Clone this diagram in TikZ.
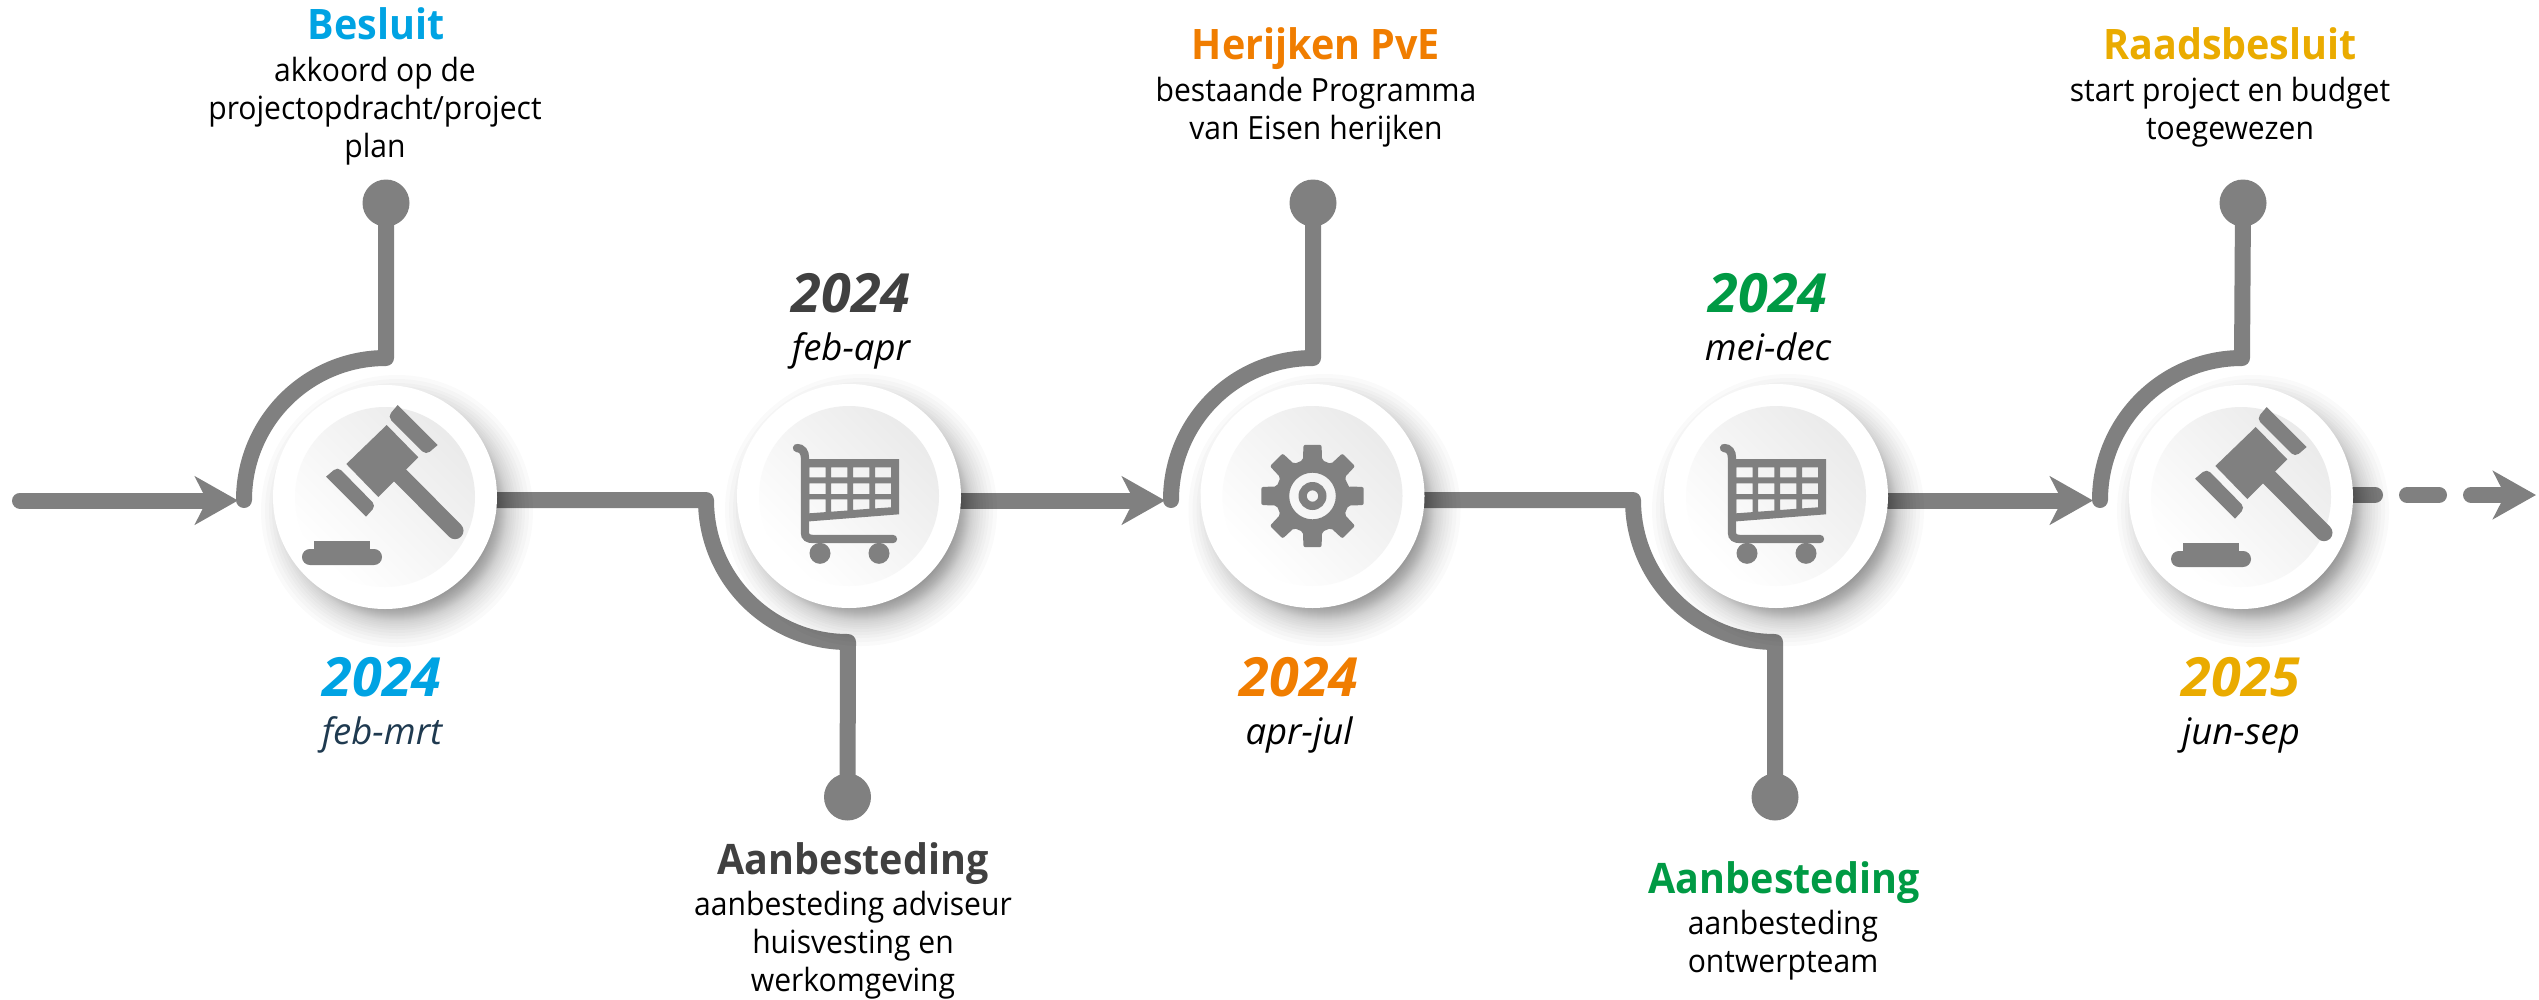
\documentclass[tikz,border=0pt]{standalone}
\usepackage{fontspec}
\usetikzlibrary{arrows.meta}
\newfontfamily\bodyf[FakeStretch=0.94]{Open Sans}
\newfontfamily\datef{Open Sans}
\definecolor{linegray}{HTML}{808080}
\definecolor{cblue}{HTML}{00A3E3}
\definecolor{cdark}{HTML}{404040}
\definecolor{corange}{HTML}{F07D00}
\definecolor{cgreen}{HTML}{009A44}
\definecolor{cyellow}{HTML}{EAAB00}
\definecolor{cnavy}{HTML}{1F3A50}
\pgfdeclarelayer{conn}
\pgfsetlayers{conn,main}
\tikzset{
  x=1pt,y=-1pt,
  conn/.style={draw=linegray,line width=16pt,line cap=round,line join=round},
  arrowconn/.style={conn,-{Stealth[length=43pt,width=48pt,inset=12pt]}},
  dashconn/.style={arrowconn,dash pattern=on 32pt off 32pt,dash phase=26pt},
  dot/.style={circle,fill=linegray,minimum size=47pt,inner sep=0pt},
  disc/.style={circle,fill=white,minimum size=224pt,inner sep=0pt},
  innerdisc/.style={circle,minimum size=180pt,inner sep=0pt,left color=black!8,right color=white,shading angle=-45},
  titlelabel/.style={anchor=base,inner sep=0pt,font=\bodyf\bfseries\fontsize{42}{48}\selectfont},
  bodylabel/.style={anchor=base,inner sep=0pt,align=center,text=black,font=\bodyf\fontsize{32}{38}\selectfont},
  yearlabel/.style={anchor=base,inner sep=0pt,font=\datef\bfseries\itshape\fontsize{54}{60}\selectfont},
  monthlabel/.style={anchor=base,inner sep=0pt,font=\datef\itshape\fontsize{36.5}{42}\selectfont},
  gavelicon/.pic={
    \fill[linegray] (14.7,-70)--(46.3,-37.7)--(6.3,2)--(-25.7,-31)--cycle;
    \draw[linegray,line width=17pt,line cap=round] (28,-19.7)--(83,35.7);
    \fill[linegray] (25.7,-90)--(65.7,-50)[rounded corners=5pt]--(54,-40)--(15.7,-78.3)[sharp corners]--cycle;
    \fill[linegray] (-46,-18.3)--(-6,21.7)[rounded corners=5pt]--(4,10.7)--(-34.3,-28.3)[sharp corners]--cycle;
    \fill[linegray,rounded corners=7.9pt] (-70,54) rectangle (10,70);
    \fill[linegray] (-58,45.7) rectangle (-2,55);
  },
  carticon/.pic={
    \draw[linegray,line width=8.3pt,line cap=round] (-52,-48) .. controls (-47,-48) and (-44,-44) .. (-44,-38) -- (-44,37) .. controls (-44,41) and (-41,43) .. (-36,43) -- (44,43);
    \fill[linegray,even odd rule] (-44,-37)--(50,-37)--(50,18.3)--(-44,25.7)--cycle
      (-39.7,-28.7) rectangle (-23.3,-18.7) (-18,-28.7) rectangle (-1.7,-18.7) (4,-28.7) rectangle (20.3,-18.7) (26,-28.7) rectangle (42,-18.7)
      (-39.7,-12.7) rectangle (-23.3,-2) (-18,-12.7) rectangle (-1.7,-2) (4,-12.7) rectangle (20.3,-2) (26,-12.7) rectangle (42,-2)
      (-39.7,3.3)--(-23.3,3.3)--(-23.3,16.1)--(-39.7,17.3)--cycle
      (-18,3.3)--(-1.7,3.3)--(-1.7,14.5)--(-18,15.7)--cycle
      (4,3.3)--(20.3,3.3)--(20.3,12.8)--(4,14)--cycle
      (26,3.3)--(42,3.3)--(42,11.3)--(26,12.4)--cycle;
    \fill[linegray] (-29,57.3) circle[radius=10.5] (30,57.3) circle[radius=10.5];
  },
  gearicon/.pic={
    \fill[linegray,even odd rule,rounded corners=2pt] (-12:38)
      \foreach \a in {0,45,...,315}{ -- (\a-15:37) -- (\a-10:52) -- (\a+10:52) -- (\a+15:37)} -- cycle
      (0,0) circle[radius=23.3] (0,0) circle[radius=14] (0,0) circle[radius=5.7];
  },
}
\newcommand\softdisc[3]{%
  \foreach \r in {136,132,128,125,122,119,117,115,113,111.5,110,109,108,107,106,105,104,103,102,101,100,99,98,97,96,95,94,93,92,91,90}{\fill[black,fill opacity=.018] (#2+12,#3+14) circle[radius=\r];}
  \node[disc] (#1) at (#2,#3) {};
  \node[innerdisc] (#1in) at (#2,#3) {};
}
\begin{document}
\begin{tikzpicture}
\useasboundingbox (0,0) rectangle (2539,999);
\softdisc{c1}{385}{497}
\softdisc{c2}{849}{496}
\softdisc{c3}{1312.5}{496}
\softdisc{c4}{1776}{496}
\softdisc{c5}{2241}{497}
\pic at (372,495) {gavelicon};
\pic at (c2.center) {carticon};
\pic at (c3.center) {gearicon};
\pic at (c4.center) {carticon};
\pic at (c5.center) {gavelicon};
\node[dot] (d1) at (386,203) {};
\node[dot] (d2) at (847.5,797) {};
\node[dot] (d3) at (1313,203) {};
\node[dot] (d4) at (1775,797) {};
\node[dot] (d5) at (2243,203) {};
\coordinate (in1) at (20,500.5);
\coordinate (tip1) at (238,500.5);
\coordinate (tip2) at (1165,500.5);
\coordinate (tip4) at (2093,500.5);
\coordinate (tip5) at (2536,495);
\coordinate (s1) at (244,500);
\coordinate (s3) at (1171,500);
\coordinate (s5) at (2100,500);
\coordinate (j2) at (706,500);
\coordinate (j4) at (1633,500);
\begin{pgfonlayer}{conn}
\draw[arrowconn] (in1) -- (tip1);
\draw[conn] (s1) arc[start angle=180,end angle=270,radius=142] -- (d1.center);
\draw[conn] (c1.center |- j2) -- (j2) arc[start angle=180,end angle=90,radius=142] -- (d2.center);
\draw[arrowconn] (c2.center |- tip2) -- (tip2);
\draw[conn] (s3) arc[start angle=180,end angle=270,radius=142] -- (d3.center);
\draw[conn] (c3.center |- j4) -- (j4) arc[start angle=180,end angle=90,radius=142] -- (d4.center);
\draw[arrowconn] (c4.center |- tip4) -- (tip4);
\draw[conn] (s5) arc[start angle=180,end angle=270,radius=142] -- (d5.center);
\draw[dashconn] (c5.center |- tip5) -- (tip5);
\end{pgfonlayer}
% top and bottom labels
\node[titlelabel,text=cblue] (t1) at (376,39) {Besluit};
\node[bodylabel] (b1) at (375,157) {akkoord op de\\projectopdracht/project\\plan};
\node[titlelabel,text=cdark] (t2) at (853,874) {Aanbesteding};
\node[bodylabel] (b2) at (853,991) {aanbesteding adviseur\\huisvesting en\\werkomgeving};
\node[titlelabel,text=corange] (t3) at (1316,59) {Herijken PvE};
\node[bodylabel] (b3) at (1316,139) {bestaande Programma\\van Eisen herijken};
\node[titlelabel,text=cgreen] (t4) at (1784,893) {Aanbesteding};
\node[bodylabel] (b4) at (1783,972) {aanbesteding\\ontwerpteam};
\node[titlelabel,text=cyellow] (t5) at (2230,59) {Raadsbesluit};
\node[bodylabel] (b5) at (2230,139) {start project en budget\\toegewezen};
% dates
\node[yearlabel,text=cblue] (y1) at (382,696) {2024};
\node[monthlabel,text=cnavy] (m1) at (382,744) {feb-mrt};
\node[yearlabel,text=cdark] (y2) at (851,312) {2024};
\node[monthlabel] (m2) at (851,360) {feb-apr};
\node[yearlabel,text=corange] (y3) at (1299,696) {2024};
\node[monthlabel] (m3) at (1299,744) {apr-jul};
\node[yearlabel,text=cgreen] (y4) at (1768,312) {2024};
\node[monthlabel] (m4) at (1768,360) {mei-dec};
\node[yearlabel,text=cyellow] (y5) at (2241,696) {2025};
\node[monthlabel] (m5) at (2241,744) {jun-sep};
\end{tikzpicture}
\end{document}
